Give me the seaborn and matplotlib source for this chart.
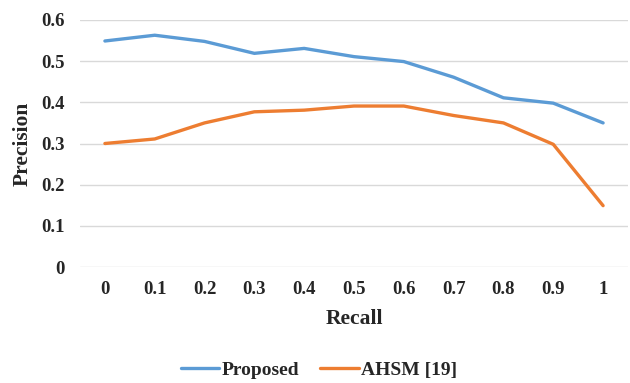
import pandas as pd
import matplotlib
matplotlib.use("Agg")
import matplotlib.pyplot as plt
import seaborn as sns

recall = ["0", "0.1", "0.2", "0.3", "0.4", "0.5", "0.6", "0.7", "0.8", "0.9", "1"]
proposed = [0.549, 0.563, 0.548, 0.519, 0.531, 0.511, 0.499, 0.461, 0.411, 0.398, 0.350]
ahsm = [0.300, 0.311, 0.350, 0.377, 0.381, 0.391, 0.391, 0.368, 0.350, 0.298, 0.149]
yticks = [0, 0.1, 0.2, 0.3, 0.4, 0.5, 0.6]

df = pd.DataFrame({
    "Recall": recall * 2,
    "Precision": proposed + ahsm,
    "Method": ["Proposed"] * len(recall) + ["AHSM [19]"] * len(recall),
})

sns.set_style("white")
plt.rcParams["font.family"] = ["Liberation Serif", "DejaVu Serif"]
plt.rcParams["font.weight"] = "bold"

fig = plt.figure(figsize=(6.3, 3.83), dpi=100)
ax = fig.add_axes([80 / 630, 1 - 267 / 383, 548 / 630, 247 / 383])
sns.lineplot(data=df, x="Recall", y="Precision", hue="Method", sort=False,
             palette=["#5B9BD5", "#ED7D31"], linewidth=2.4, ax=ax, legend=False)

ax.set_xlim(-0.5, 10.5)
ax.set_ylim(0, 0.6)
ax.set_yticks(yticks)
ax.set_yticklabels(["0" if v == 0 else f"{v:g}" for v in yticks])
ax.yaxis.grid(True, color="#d9d9d9", linewidth=1)
ax.set_axisbelow(True)
for s in ax.spines.values():
    s.set_visible(False)
ax.tick_params(axis="both", length=0, labelsize=13.5)
ax.tick_params(axis="x", pad=10)
ax.tick_params(axis="y", pad=11)
for lab in ax.get_xticklabels() + ax.get_yticklabels():
    lab.set_fontweight("bold")

ax.set_xlabel("Recall", fontsize=15.5, fontweight="bold", va="center")
ax.xaxis.set_label_coords(0.5, (267 - 319) / 247)
ax.set_ylabel("Precision", fontsize=15.5, fontweight="bold", va="center")
ax.yaxis.set_label_coords((23 - 80) / 548, 0.5)

handles = ax.get_lines()[:2]
fig.legend(handles, ["Proposed", "AHSM [19]"], loc="center",
           bbox_to_anchor=(319 / 630, 1 - 370 / 383), ncol=2, frameon=False,
           handlelength=2.0, handletextpad=0.1, columnspacing=1.1,
           prop={"weight": "bold", "size": 14})

fig.savefig("out.png", dpi=100)
